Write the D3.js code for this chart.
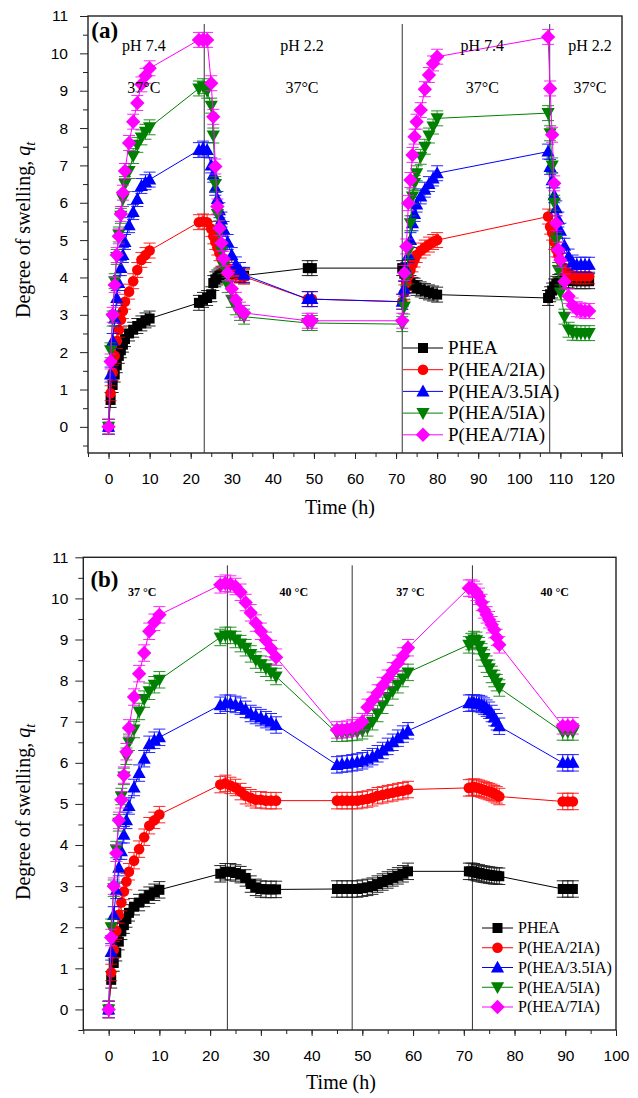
<!DOCTYPE html>
<html>
<head>
<meta charset="utf-8">
<script src="https://cdn.jsdelivr.net/npm/d3@7"></script>
<style>
  body { margin: 0; background: #fff; }
  svg { display: block; }
  .tick text { font-family: "Liberation Sans", Arial, sans-serif; font-size: 15.5px; fill: #000; }
  .tick line { stroke: #222; }
  .serif { font-family: "Liberation Serif", "Times New Roman", serif; fill: #000; }
</style>
</head>
<body>
<svg id="chart" width="638" height="1098"></svg>
<script>
// Series names (legend order)
const seriesNames = ["PHEA", "P(HEA/2IA)", "P(HEA/3.5IA)", "P(HEA/5IA)", "P(HEA/7IA)"];

// ---- Panel (a): pH switching, time in h ----
const timeA = [0, 0.5, 1, 1.5, 2, 2.5, 3, 3.5, 4, 5, 6, 7, 8, 9, 10,
  22, 23, 24, 25, 25.5, 26, 26.5, 27, 27.5, 28, 29, 30, 31, 32, 33,
  48.5, 49.5,
  71.5, 72, 72.5, 73, 73.5, 74, 74.5, 75, 76, 77, 78, 79, 80,
  107, 107.5, 108, 108.5, 109, 109.5, 110, 111, 112, 113, 114, 115, 116, 117];

const pheaA = [0, 0.72, 1.12, 1.4, 1.65, 1.9, 2.05, 2.2, 2.35, 2.5, 2.6, 2.7, 2.77, 2.85, 2.9,
  3.32, 3.4, 3.45, 3.55, 3.85, 3.95, 4.0, 4.05, 4.08, 4.1, 4.1, 4.1, 4.08, 4.07, 4.05,
  4.25, 4.25,
  4.25, 4.1, 3.95, 3.9, 3.85, 3.8, 3.78, 3.72, 3.68, 3.64, 3.6, 3.57, 3.54,
  3.45, 3.55, 3.65, 3.76, 3.83, 3.88, 3.9, 3.92, 3.92, 3.9, 3.9, 3.9, 3.9, 3.9];
const ia2A = [0, 0.9, 1.45, 1.9, 2.3, 2.6, 2.87, 3.1, 3.35, 3.62, 3.9, 4.2, 4.47, 4.6, 4.72,
  5.48, 5.5, 5.48, 5.3, 5.1, 4.95, 4.8, 4.65, 4.5, 4.4, 4.25, 4.15, 4.1, 4.05, 4.02,
  3.42, 3.42,
  3.35, 3.6, 3.85, 4.03, 4.2, 4.35, 4.48, 4.6, 4.72, 4.8, 4.88, 4.95, 5.0,
  5.63, 5.36, 5.2, 4.95, 4.75, 4.6, 4.45, 4.25, 4.12, 4.05, 4.03, 4.03, 4.03, 4.03];
const ia35A = [0, 1.4, 2.3, 2.9, 3.45, 3.85, 4.25, 4.6, 4.95, 5.4, 5.75, 6.1, 6.45, 6.55, 6.62,
  7.41, 7.45, 7.41, 7.0, 6.75, 6.4, 6.1, 5.8, 5.55, 5.3, 4.95, 4.6, 4.35, 4.2, 4.07,
  3.42, 3.42,
  3.35, 3.7, 4.2, 4.6, 5.0, 5.45, 5.7, 5.95, 6.17, 6.35, 6.5, 6.65, 6.79,
  7.37, 6.96, 6.6, 6.2, 5.85, 5.55, 5.25, 4.85, 4.56, 4.4, 4.34, 4.34, 4.34, 4.34];
const ia5A = [0, 2.05, 2.9, 3.9, 4.55, 5.15, 5.65, 6.1, 6.5, 6.85, 7.25, 7.55, 7.75, 7.9, 8.02,
  9.06, 9.12, 9.0, 8.6, 7.8, 6.5, 5.7, 5.2, 4.7, 4.3, 3.8, 3.4, 3.2, 3.05, 2.95,
  2.78, 2.78,
  2.75, 3.22, 4.0, 4.7, 5.45, 6.17, 6.53, 6.79, 7.23, 7.5, 7.8, 8.04, 8.26,
  8.4, 7.86, 7.0, 6.0, 5.0, 4.2, 3.6, 2.95, 2.6, 2.52, 2.51, 2.51, 2.51, 2.51];
const ia7A = [0, 1.75, 3.0, 3.8, 4.6, 5.1, 5.7, 6.27, 6.85, 7.6, 8.17, 8.67, 9.17, 9.4, 9.6,
  10.36, 10.36, 10.36, 9.2, 8.3, 6.97, 5.9, 5.32, 4.92, 4.5, 4.12, 3.7, 3.4, 3.14, 3.05,
  2.84, 2.84,
  2.84, 4.12, 4.83, 5.99, 6.61, 7.28, 7.77, 8.17, 8.48, 9.04, 9.42, 9.73, 9.91,
  10.44, 9.06, 7.82, 6.52, 5.45, 4.74, 4.47, 3.89, 3.5, 3.25, 3.15, 3.12, 3.1, 3.1];
const switchA = [23.3, 71.5, 107.4];
const condTextA = ["pH 7.4", "pH 2.2", "pH 7.4", "pH 2.2"];
const condTimeA = [8.6, 47.1, 91.0, 117.2];
const tempTextA = ["37°C", "37°C", "37°C", "37°C"];

// ---- Panel (b): temperature switching, time in h ----
const timeB = [0, 0.5, 1, 1.5, 2, 2.5, 3, 3.5, 4, 5, 6, 7, 8, 9, 10,
  22, 23, 24, 25, 26, 27, 28, 29, 30, 31, 32, 33,
  45, 46, 47, 48, 49, 50, 51, 52, 53, 54, 55, 56, 57, 58, 59,
  71, 71.5, 72, 72.5, 73, 73.5, 74, 74.5, 75, 75.5, 76, 76.5, 77,
  89.5, 90.5, 91.5];

const pheaB = [0, 0.72, 1.13, 1.38, 1.65, 1.9, 2.05, 2.2, 2.35, 2.5, 2.6, 2.7, 2.78, 2.85, 2.91,
  3.3, 3.35, 3.35, 3.32, 3.28, 3.2, 3.05, 2.97, 2.93, 2.92, 2.92, 2.92,
  2.93, 2.93, 2.93, 2.93, 2.93, 2.95, 2.97, 3.0, 3.05, 3.1, 3.15, 3.2, 3.25, 3.3, 3.36,
  3.36, 3.36, 3.35, 3.33, 3.32, 3.3, 3.29, 3.28, 3.27, 3.26, 3.25, 3.25, 3.24,
  2.93, 2.93, 2.93];
const ia2B = [0, 0.9, 1.45, 1.9, 2.3, 2.6, 2.87, 3.11, 3.35, 3.62, 3.9, 4.19, 4.47, 4.6, 4.74,
  5.47, 5.5, 5.45, 5.4, 5.3, 5.2, 5.15, 5.1, 5.1, 5.08, 5.08, 5.08,
  5.08, 5.08, 5.08, 5.08, 5.08, 5.1, 5.12, 5.15, 5.2, 5.22, 5.25, 5.27, 5.3, 5.32, 5.35,
  5.39, 5.4, 5.41, 5.4, 5.38, 5.36, 5.34, 5.32, 5.3, 5.28, 5.25, 5.22, 5.18,
  5.06, 5.06, 5.06];
const ia35B = [0, 1.4, 2.3, 2.9, 3.45, 3.85, 4.25, 4.6, 4.95, 5.4, 5.75, 6.1, 6.45, 6.55, 6.62,
  7.4, 7.45, 7.45, 7.42, 7.38, 7.3, 7.2, 7.15, 7.1, 7.05, 7.0, 6.92,
  5.95, 5.97, 5.98, 6.0, 6.02, 6.05, 6.1, 6.15, 6.22, 6.3, 6.4, 6.5, 6.6, 6.7, 6.78,
  7.45, 7.46, 7.46, 7.45, 7.44, 7.42, 7.38, 7.33, 7.28, 7.2, 7.1, 7.0, 6.89,
  6.0, 6.0, 6.0];
const ia5B = [0, 2.0, 2.95, 3.89, 4.54, 5.18, 5.67, 6.16, 6.5, 6.81, 7.25, 7.55, 7.74, 7.9, 8.02,
  9.05, 9.1, 9.1, 9.0, 8.9, 8.8, 8.65, 8.5, 8.4, 8.3, 8.2, 8.1,
  6.72, 6.72, 6.73, 6.74, 6.75, 6.78, 6.85, 7.0, 7.2, 7.4, 7.6, 7.75, 7.9, 8.05, 8.2,
  8.87, 8.95, 9.0, 8.98, 8.85, 8.7, 8.55, 8.4, 8.3, 8.15, 8.05, 7.95, 7.82,
  6.75, 6.75, 6.75];
const ia7B = [0, 1.75, 3.0, 3.8, 4.6, 5.1, 5.7, 6.27, 6.85, 7.6, 8.17, 8.67, 9.2, 9.42, 9.6,
  10.33, 10.37, 10.35, 10.29, 10.15, 9.9, 9.65, 9.4, 9.2, 8.98, 8.78, 8.57,
  6.8, 6.8, 6.82, 6.85, 6.9, 7.0, 7.35, 7.52, 7.7, 7.88, 8.06, 8.24, 8.42, 8.6, 8.8,
  10.25, 10.25, 10.22, 10.15, 10.05, 9.9, 9.72, 9.6, 9.48, 9.36, 9.24, 9.05, 8.87,
  6.9, 6.9, 6.9];
const switchB = [23.4, 48, 71.7];
const tempTextB = ["37 °C", "40 °C", "37 °C", "40 °C"];
const tempTimeB = [6.6, 36.5, 59.5, 87.9];

// error bar half-width (same for all points)
const errA = 0.2;
const errB = 0.2;

const colors = ["#000000", "#ff0000", "#0000ff", "#008000", "#ff00ff"];
const shapes = {
  square: "M-5,-5H5V5H-5Z",
  circle: d3.symbol(d3.symbolCircle, 88)(),
  up: "M0,-6.8L6.6,5L-6.6,5Z",
  down: "M0,6.8L6.6,-5L-6.6,-5Z",
  diamond: "M0,-7.2L7.2,0L0,7.2L-7.2,0Z"
};
const shapeOrder = ["square", "circle", "up", "down", "diamond"];

const svg = d3.select("#chart");

function drawPanel(p) {
  const g = svg.append("g");
  const x = d3.scaleLinear().domain(p.xDomain).range([p.left, p.right]);
  const y = d3.scaleLinear().domain(p.yDomain).range([p.bottom, p.top]);

  // minor ticks
  g.append("g")
    .attr("transform", `translate(0,${p.bottom})`)
    .call(d3.axisBottom(x).tickValues(p.xMinor).tickSize(4).tickFormat(""))
    .call(a => a.select(".domain").remove());
  g.append("g")
    .attr("transform", `translate(${p.left},0)`)
    .call(d3.axisLeft(y).tickValues(p.yMinor).tickSize(5).tickFormat(""))
    .call(a => a.select(".domain").remove());

  // major ticks
  g.append("g")
    .attr("transform", `translate(0,${p.bottom})`)
    .call(d3.axisBottom(x).tickValues(p.xTicks).tickSize(6).tickPadding(p.xPad))
    .call(a => a.select(".domain").remove());
  g.append("g")
    .attr("transform", `translate(${p.left},0)`)
    .call(d3.axisLeft(y).tickValues(d3.range(0, 12)).tickSize(8).tickPadding(p.yPad))
    .call(a => a.select(".domain").remove());

  // frame
  g.append("rect")
    .attr("x", p.left).attr("y", p.top)
    .attr("width", p.right - p.left).attr("height", p.bottom - p.top)
    .attr("fill", "none").attr("stroke", "#222").attr("stroke-width", 1.4);

  // switching lines
  g.selectAll(".vline").data(p.switches).enter().append("line")
    .attr("x1", d => x(d)).attr("x2", d => x(d))
    .attr("y1", p.top + 8).attr("y2", p.bottom)
    .attr("stroke", "#333").attr("stroke-width", 1);

  // series
  p.values.forEach((vals, i) => {
    const pts = p.time.map((t, j) => ({ t: t, v: vals[j] }));
    const c = colors[i];
    g.append("path")
      .datum(pts)
      .attr("fill", "none").attr("stroke", c).attr("stroke-width", 1)
      .attr("d", d3.line().x(d => x(d.t)).y(d => y(d.v)));

    const eb = g.append("g").attr("stroke", c).attr("stroke-width", 1).attr("opacity", 0.85);
    eb.selectAll(".eb").data(pts).enter().append("path")
      .attr("fill", "none")
      .attr("d", d => {
        const cx = x(d.t), y1 = y(d.v + p.err), y2 = y(d.v - p.err);
        return `M${cx},${y1}V${y2}M${cx - 6},${y1}H${cx + 6}M${cx - 6},${y2}H${cx + 6}`;
      });

    g.selectAll(null).data(pts).enter().append("path")
      .attr("d", shapes[shapeOrder[i]])
      .attr("transform", d => `translate(${x(d.t)},${y(d.v)})`)
      .attr("fill", c);
  });

  // panel letter
  g.append("text").attr("class", "serif")
    .attr("x", x(p.letterPos[0])).attr("y", y(p.letterPos[1]))
    .attr("font-size", 23).attr("font-weight", "bold")
    .text(p.letter);

  // condition labels
  p.labels.forEach(l => {
    g.append("text").attr("class", "serif")
      .attr("x", x(l.t)).attr("y", y(l.q))
      .attr("text-anchor", "middle")
      .attr("font-size", l.size).attr("font-weight", l.bold ? "bold" : "normal")
      .text(l.text);
  });

  // axis titles
  g.append("text").attr("class", "serif")
    .attr("x", p.xTitle[0]).attr("y", p.xTitle[1])
    .attr("text-anchor", "middle").attr("font-size", 20)
    .text("Time (h)");
  const yt = g.append("text").attr("class", "serif")
    .attr("transform", `translate(${p.yTitle[0]},${p.yTitle[1]}) rotate(-90)`)
    .attr("text-anchor", "middle").attr("font-size", 20);
  yt.append("tspan").text("Degree of swelling, ");
  yt.append("tspan").attr("font-style", "italic").text("q");
  yt.append("tspan").attr("font-style", "italic").attr("font-size", 14).attr("dy", "0.35em").text("t");

  // legend
  const lg = g.append("g").attr("transform", `translate(${p.legend[0]},${p.legend[1]})`);
  seriesNames.forEach((name, i) => {
    const row = lg.append("g").attr("transform", `translate(0,${i * p.legend[2]})`);
    row.append("line").attr("x1", 0).attr("x2", p.legend[3])
      .attr("stroke", colors[i]).attr("stroke-width", 1);
    row.append("path").attr("d", shapes[shapeOrder[i]])
      .attr("transform", `translate(${p.legend[3] / 2},0)`)
      .attr("fill", colors[i]);
    row.append("text").attr("class", "serif")
      .attr("x", p.legend[3] + 5).attr("y", 0).attr("dy", "0.33em")
      .attr("font-size", p.legend[4])
      .text(name);
  });
}

const labelsA = [];
condTextA.forEach((s, i) => {
  labelsA.push({ text: s, t: condTimeA[i], q: 10.06, size: 16 });
  labelsA.push({ text: tempTextA[i], t: condTimeA[i], q: 8.93, size: 16 });
});
const labelsB = tempTextB.map((s, i) => ({ text: s, t: tempTimeB[i], q: 10.07, size: 12, bold: true }));

drawPanel({
  left: 88, right: 622, top: 16, bottom: 453,
  xDomain: [-5, 125], yDomain: [-0.7, 11],
  xTicks: d3.range(0, 121, 10), xMinor: d3.range(-5, 126, 5),
  yMinor: d3.range(-0.5, 11, 1),
  xPad: 14, yPad: 12,
  time: timeA, values: [pheaA, ia2A, ia35A, ia5A, ia7A], err: errA,
  switches: switchA,
  letter: "(a)", letterPos: [-4.2, 10.4],
  labels: labelsA,
  xTitle: [340, 514], yTitle: [30, 230],
  legend: [403, 348, 21.7, 40, 19]
});

drawPanel({
  left: 83.3, right: 616, top: 557.3, bottom: 1030,
  xDomain: [-5, 100], yDomain: [-0.5, 11],
  xTicks: d3.range(0, 101, 10), xMinor: d3.range(-5, 101, 5),
  yMinor: d3.range(-0.5, 11, 1),
  xPad: 14, yPad: 7,
  time: timeB, values: [pheaB, ia2B, ia35B, ia5B, ia7B], err: errB,
  switches: switchB,
  letter: "(b)", letterPos: [-3.6, 10.28],
  labels: labelsB,
  xTitle: [341, 1089], yTitle: [30, 812],
  legend: [482, 928, 19.75, 31, 16]
});
</script>
</body>
</html>
